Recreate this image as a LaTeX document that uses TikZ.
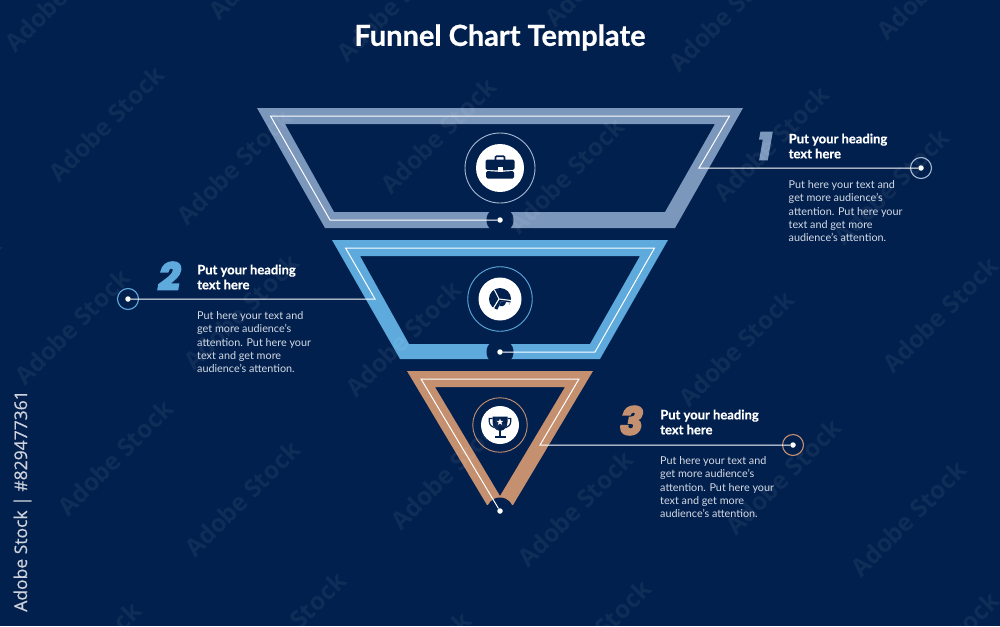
\documentclass[tikz,border=0pt]{standalone}
\usetikzlibrary{shapes.geometric}
\usepackage{fontspec}
\setmainfont[BoldFeatures={FakeBold=0.6}]{Lato}
\newfontfamily\wmfont{Open Sans}
\newfontfamily\sidefont[FakeBold=0.4]{Open Sans}
\newfontfamily\numfont[BoldItalicFeatures={FakeBold=5}]{Poppins}
\definecolor{bgc}{HTML}{02204E}
\definecolor{fa}{HTML}{7B97BB}
\definecolor{fb}{HTML}{5EAADD}
\definecolor{fc}{HTML}{C4906F}
\definecolor{ringa}{HTML}{A5B9D3}
\definecolor{bodyc}{HTML}{D5DBE5}
\definecolor{sidec}{HTML}{CDD2DB}
\tikzset{
  wm/.style={text=white,text opacity=.06,rotate=45,font=\wmfont\fontsize{24.5}{24.5}\selectfont\bfseries},
  wire/.style={draw=white,line width=1pt,line join=miter},
  enddot/.style={circle,fill=white,inner sep=0pt,minimum size=5.5pt},
  notch/.style={circle,fill=bgc,inner sep=0pt,minimum size=27pt},
  disc/.style={circle,fill=white,inner sep=0pt},
  head/.style={anchor=north west,text=white,align=left,font=\fontsize{13}{15}\selectfont\bfseries,inner sep=0pt},
  body/.style={anchor=north west,text=bodyc,align=left,font=\fontsize{10.8}{13.2}\selectfont,inner sep=0pt},
  num/.style={font=\numfont\fontsize{38}{38}\selectfont\bfseries\itshape,inner sep=0pt}
}
\begin{document}
\begin{tikzpicture}[x=1pt,y=-1pt]
\useasboundingbox (0,0) rectangle (1000,626);
\fill[bgc] (0,0) rectangle (1000,626);
% funnel bands
\fill[fa,even odd rule] (257,108)--(743,108)--(675,228)--(325,228)--cycle (285,124)--(715,124)--(665,212)--(334,212)--cycle;
\fill[fb,even odd rule] (332,240)--(668,240)--(600,359)--(400,359)--cycle (360,256)--(640,256)--(590,344)--(409,344)--cycle;
\fill[fc,even odd rule] (407,371)--(593,371)--(513,505)--(487,505)--cycle (435,387)--(565,387)--(500,496)--cycle;
% notches
\node[notch] (n1) at (500,220) {};
\node[notch] (n2) at (500,352) {};
\node[notch] (n3) at (500,511) {};
% icon rings
\node[circle,draw=ringa,line width=.9pt,inner sep=0pt,minimum size=70pt] (r1) at (500,168) {};
\node[circle,draw=fb,line width=.9pt,inner sep=0pt,minimum size=64.5pt] (r2) at (500,299) {};
\node[circle,draw=fc,line width=.9pt,inner sep=0pt,minimum size=54.5pt] (r3) at (500,425) {};
\node[disc,minimum size=48pt] (d1) at (500,168) {};
\node[disc,minimum size=43pt] (d2) at (500,299) {};
\node[disc,minimum size=38pt] (d3) at (500,425) {};
% briefcase
\draw[bgc,line width=1.6pt,rounded corners=1pt] (495.5,161)--(495.5,156.2)--(504.5,156.2)--(504.5,161);
\fill[bgc,rounded corners=1.5pt] (485.5,159.5)--(514.5,159.5)--(514.5,169.8)--(500,170.6)--(485.5,169.8)--cycle;
\fill[bgc,rounded corners=1.5pt] (486,171)--(500,171.8)--(514,171)--(514,178.5)--(486,178.5)--cycle;
\fill[white] (497.5,167.2)rectangle(502.5,171.6);
% pie
\fill[bgc] (500,299) circle (11);
\draw[white,line width=1.1pt] (499,299)--(494.5,290) (499,299)--(511,300.5) (499,299)--(493.5,308);
\fill[white] (501,301.5)--(510,302.5) arc (6:112:9.2)--cycle;
\fill[bgc] (501,301.5)--(506,302) arc (6:112:5)--cycle;
% trophy
\fill[bgc] (492.5,416.5)--(507.5,416.5)--(507.5,422) .. controls (507.5,427) and (504.5,430) .. (501.5,430.5)--(498.5,430.5) .. controls (495.5,430) and (492.5,427) .. (492.5,422)--cycle;
\draw[bgc,line width=1.2pt] (492.5,418.5)--(489.3,418.5)--(489.3,421.5) .. controls (489.3,425) and (492,427) .. (494,427.5);
\draw[bgc,line width=1.2pt] (507.5,418.5)--(510.7,418.5)--(510.7,421.5) .. controls (510.7,425) and (508,427) .. (506,427.5);
\fill[bgc] (498.8,430)rectangle(501.2,436);
\fill[bgc] (494.5,436)rectangle(505.5,437.8);
\node[star,star points=5,star point ratio=2.4,fill=white,inner sep=0pt,minimum size=7pt] (st) at (500,422) {};
% wires
\coordinate (e1) at (921,168);
\coordinate (e2) at (128,299);
\coordinate (e3) at (793,445);
\node[enddot] (p1) at (500,220) {};
\node[enddot] (p2) at (500,352) {};
\node[enddot] (p3) at (500,511) {};
\node[circle,draw=ringa,line width=1.1pt,inner sep=0pt,minimum size=21pt] (c1) at (e1) {};
\node[circle,draw=fb,line width=1.1pt,inner sep=0pt,minimum size=21pt] (c2) at (e2) {};
\node[circle,draw=fc,line width=1.1pt,inner sep=0pt,minimum size=21pt] (c3) at (e3) {};
\node[enddot] (q1) at (e1) {};
\node[enddot] (q2) at (e2) {};
\node[enddot] (q3) at (e3) {};
\draw[wire] (p1)--(330,220)--(270.5,116)--(729.5,116)--(699,168)--(q1);
\draw[wire] (p2)--(595,352)--(654.5,248)--(345.5,248)--(375,299)--(q2);
\draw[wire] (p3)--(421,379)--(579,379)--(540,445)--(q3);
% numerals
\node[num,text=fa] (n-1) at (764.5,146) {1};
\node[num,text=fb] (n-2) at (169.5,276) {2};
\node[num,text=fc] (n-3) at (631.5,420.5) {3};
% text
\node[text=white,font=\fontsize{29}{29}\selectfont\bfseries,inner sep=0pt] (title) at (500,37.5) {Funnel Chart Template};
\node[head] (h1) at (788.5,133.5) {Put your heading\\text here};
\node[body] (b1) at (788.5,180.5) {Put here your text and\\get more audience's\\attention. Put here your\\text and get more\\audience's attention.};
\node[head] (h2) at (197,264.5) {Put your heading\\text here};
\node[body] (b2) at (197,311.5) {Put here your text and\\get more audience's\\attention. Put here your\\text and get more\\audience's attention.};
\node[head] (h3) at (660,409.5) {Put your heading\\text here};
\node[body] (b3) at (660,456.5) {Put here your text and\\get more audience's\\attention. Put here your\\text and get more\\audience's attention.};
\node[text=sidec,rotate=90,font=\sidefont\fontsize{17.5}{17.5}\selectfont,inner sep=0pt] (side) at (22.5,501) {Adobe Stock | \#829477361};
% faint overlay marks
\foreach \p in {(62,-6),(266,-38),(394,4),(602,-31),(726,14),(934,-18),(106,124),(234,167),(438,136),(566,176),(771,144),(891,187),(72,327),(241,312),(403,339),(736,349),(940,315),(-57,295),(115,458),(242,499),(448,472),(575,509),(783,477),(908,519),(83,660),(288,630),(413,670),(593,638),(941,650)}
  \node[wm] at \p {Adobe Stock};
\end{tikzpicture}
\end{document}
